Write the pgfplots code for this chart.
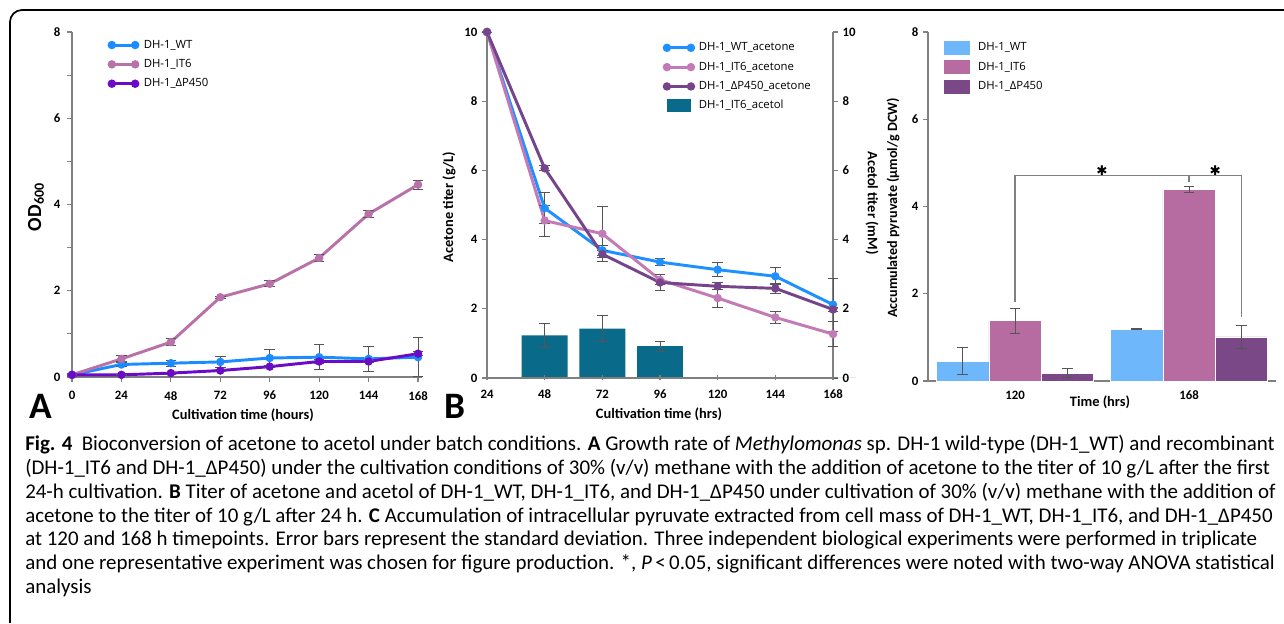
\documentclass[border=0pt]{standalone}
\usepackage{pgfplots}
\pgfplotsset{compat=1.18}
\usepackage{fontspec}
\setmainfont{Carlito}
\newfontfamily\legfont{Open Sans}
\newfontfamily\dejavu{DejaVu Sans}
\definecolor{wtA}{HTML}{1A8CFF}
\definecolor{itA}{HTML}{B972A8}
\definecolor{dpA}{HTML}{6B0AC9}
\definecolor{wtB}{HTML}{1E90FF}
\definecolor{itB}{HTML}{C27BB7}
\definecolor{dpB}{HTML}{76448A}
\definecolor{acet}{HTML}{0A6A8A}
\definecolor{wtC}{HTML}{6FB7FB}
\definecolor{itC}{HTML}{B66BA1}
\definecolor{dpC}{HTML}{7A4886}
\definecolor{axg}{HTML}{808080}
\definecolor{errg}{HTML}{555555}
\pgfplotsset{
  panel/.style={
    scale only axis, anchor=south west,
    axis x line*=bottom, axis y line*=left,
    axis line style={axg, line width=0.9pt},
    tick align=outside,
    major tick length=3.75pt, minor tick length=3.75pt,
    every tick/.style={axg, line width=0.8pt},
    /pgf/number format/assume math mode=true,
    ticklabel style={font=\bfseries\fontsize{9.6}{11}\selectfont, black},
    clip=false,
    legend cell align=left,
    legend style={draw=none, fill=none, anchor=north west,
       font=\legfont\fontsize{8.5}{10}\selectfont,
       nodes={inner sep=1pt, text height=6.5pt, text depth=2pt},
       row sep=4pt},
  },
  eb/.style={error bars/.cd, y dir=both, y explicit,
     error bar style={errg, line width=0.7pt},
     error mark options={rotate=90, errg, mark size=4pt, line width=0.7pt}},
  ln/.style={line width=2.2pt, mark=*, mark size=2pt, mark options={solid}},
}
\begin{document}
\begin{tikzpicture}
\useasboundingbox (0pt,0pt) rectangle (963pt,468pt);
\fill[white] (0pt,0pt) rectangle (963pt,468pt);

% ---------------- Panel A ----------------
\begin{axis}[panel, at={(54pt,185.25pt)}, width=262.6pt, height=258.75pt,
  xmin=0, xmax=170, ymin=0, ymax=8,
  xtick={0,24,...,168}, ytick={0,2,...,8}, minor ytick={1,3,5,7},
  xticklabel style={yshift=-3.4pt}, yticklabel style={xshift=-1.5pt},
  legend style={at={(0.094,0.991)}},
  legend image code/.code={\draw[#1] plot coordinates {(0pt,0pt) (17.5pt,0pt)}; \path[draw=none, fill=none] (0pt,0pt) -- (23pt,0pt);}]
\addplot[ln, wtA, eb] table[x=x, y=y, y error=e] {
x y e
0 0.05 0.03
24 0.29 0.05
48 0.32 0.07
72 0.35 0.12
96 0.44 0.20
120 0.46 0.29
144 0.42 0.29
168 0.46 0.45
};
\addlegendentry{DH-1\_WT}
\addplot[ln, itA, eb] table[x=x, y=y, y error=e] {
x y e
0 0.05 0.02
24 0.42 0.07
48 0.81 0.08
72 1.85 0.02
96 2.16 0.07
120 2.76 0.09
144 3.78 0.08
168 4.46 0.10
};
\addlegendentry{DH-1\_IT6}
\addplot[ln, dpA, eb] table[x=x, y=y, y error=e] {
x y e
0 0.05 0.02
24 0.05 0.01
48 0.09 0.02
72 0.15 0.03
96 0.24 0.02
120 0.36 0.04
144 0.36 0.03
168 0.54 0.05
};
\addlegendentry{DH-1\_ΔP450}
\end{axis}

% ---------------- Panel B: acetol bars (right axis) ----------------
\begin{axis}[panel, at={(365.25pt,184.5pt)}, width=259.5pt, height=259.5pt,
  xmin=24, xmax=168, ymin=0, ymax=10,
  axis x line=none, axis y line*=right,
  ytick={0,2,...,10}]
\addplot[ybar, bar width=19.1, fill=acet, draw=none, eb] table[x=x, y=y, y error=e] {
x y e
48 1.23 0.35
72 1.43 0.37
96 0.92 0.15
120 0 0
144 0 0
168 0 0
};
\end{axis}

% ---------------- Panel B: acetone lines (left axis) ----------------
\begin{axis}[panel, at={(365.25pt,184.5pt)}, width=259.5pt, height=259.5pt,
  xmin=24, xmax=168, ymin=0, ymax=10,
  xtick={24,48,...,168}, ytick={0,2,...,10}, xtick align=center,
  xticklabel style={yshift=-3.4pt},
  legend style={at={(0.50,0.983)}},
  legend image code/.code={\draw[#1] plot coordinates {(0pt,0pt) (18pt,0pt)}; \path[draw=none, fill=none] (0pt,0pt) -- (23pt,0pt);}]
\addplot[ln, wtB, eb] table[x=x, y=y, y error=e] {
x y e
24 10 0
48 4.91 0.44
72 3.69 0.15
96 3.35 0.10
120 3.13 0.20
144 2.94 0.25
168 2.12 0.77
};
\addlegendentry{DH-1\_WT\_acetone}
\addplot[ln, itB, eb] table[x=x, y=y, y error=e] {
x y e
24 10 0
48 4.55 0.45
72 4.17 0.80
96 2.84 0.15
120 2.31 0.26
144 1.75 0.18
168 1.27 0.35
};
\addlegendentry{DH-1\_IT6\_acetone}
\addplot[ln, dpB, eb] table[x=x, y=y, y error=e] {
x y e
24 10 0
48 6.06 0.07
72 3.58 0.10
96 2.76 0.22
120 2.65 0.10
144 2.59 0.15
168 1.98 0.05
};
\addlegendentry{DH-1\_ΔP450\_acetone}
\addlegendimage{legend image code/.code={\fill[acet, draw=none] (0pt,-5pt) rectangle (18pt,5pt); \path[draw=none, fill=none] (0pt,0pt) -- (23pt,0pt);}}
\addlegendentry{DH-1\_IT6\_acetol}
\end{axis}

% ---------------- Panel C ----------------
\begin{axis}[panel, at={(696pt,182.25pt)}, width=261pt, height=261.75pt,
  xmin=-0.5, xmax=1.5, ymin=0, ymax=8,
  xtick={0,1}, xticklabels={120,168}, ytick={0,2,...,8},
  xtick style={draw=none},
  legend style={at={(0.034,0.983)}},
  legend image code/.code={\fill[#1, draw=none] (0pt,-5.25pt) rectangle (19.5pt,5.25pt); \path[draw=none, fill=none] (0pt,0pt) -- (24.5pt,0pt);}]
\addplot[ybar, bar width=0.3, bar shift=0pt, fill=wtC, draw=white, line width=0.5pt, eb] table[x=x, y=y, y error=e] {
x y e
-0.3 0.45 0.31
0.7 1.19 0.01
};
\addlegendentry{DH-1\_WT}
\addplot[ybar, bar width=0.3, bar shift=0pt, fill=itC, draw=white, line width=0.5pt, eb] table[x=x, y=y, y error=e] {
x y e
0 1.38 0.28
1 4.39 0.07
};
\addlegendentry{DH-1\_IT6}
\addplot[ybar, bar width=0.3, bar shift=0pt, fill=dpC, draw=white, line width=0.5pt, eb] table[x=x, y=y, y error=e] {
x y e
0.3 0.18 0.10
1.3 1.01 0.26
};
\addlegendentry{DH-1\_ΔP450}
\draw[axg, line width=0.8pt] (axis cs:0,1.82) -- (axis cs:0,4.70) -- (axis cs:1.3,4.70) -- (axis cs:1.3,1.47);
\draw[axg, line width=0.8pt] (axis cs:1,4.70) -- (axis cs:1,4.57);
\node[font=\dejavu\fontsize{10}{10}\selectfont] at (axis cs:0.5,4.83) {✱};
\node[font=\dejavu\fontsize{10}{10}\selectfont] at (axis cs:1.15,4.83) {✱};
\end{axis}

% ---------------- Texts (pixel coordinates) ----------------
\begin{scope}[x=0.75pt, y=-0.75pt, shift={(0pt,468pt)}]
\draw[line width=1.3pt, rounded corners=9pt] (1290,10) -- (10,10) -- (10,623);
\node[rotate=90, font=\bfseries\fontsize{15}{18}\selectfont] at (36,207) {OD\textsubscript{600}};
\node[font=\bfseries\fontsize{10.8}{12}\selectfont] at (243,415) {Cultivation time (hours)};
\node[rotate=90, font=\bfseries\fontsize{10.8}{12}\selectfont] at (449,207) {Acetone titer (g/L)};
\node[rotate=-90, font=\bfseries\fontsize{10.8}{12}\selectfont] at (872,203) {Acetol titer (mM)};
\node[font=\bfseries\fontsize{10.8}{12}\selectfont] at (659,414) {Cultivation time (hrs)};
\node[rotate=90, font=\bfseries\fontsize{10.6}{12}\selectfont] at (893,208) {Accumulated pyruvate (µmol/g DCW)};
\node[font=\bfseries\fontsize{10.8}{12}\selectfont] at (1100,402) {Time (hrs)};
\node[font=\bfseries\fontsize{28}{30}\selectfont] at (41,406) {A};
\node[font=\bfseries\fontsize{28}{30}\selectfont] at (455,406) {B};
\begin{scope}[every node/.style={anchor=base west, inner sep=0pt, font=\fontsize{15.7}{18}\selectfont}]
\node at (25,451) {\textbf{Fig. 4}\hspace{7pt}Bioconversion of acetone to acetol under batch conditions. \textbf{A} Growth rate of \textit{Methylomonas} sp. DH-1 wild-type (DH-1\_WT) and recombinant};
\node at (25,474.7) {(DH-1\_IT6 and DH-1\_ΔP450) under the cultivation conditions of 30\% (v/v) methane with the addition of acetone to the titer of 10 g/L after the first};
\node at (25,498.4) {24-h cultivation. \textbf{B} Titer of acetone and acetol of DH-1\_WT, DH-1\_IT6, and DH-1\_ΔP450 under cultivation of 30\% (v/v) methane with the addition of};
\node at (25,522.1) {acetone to the titer of 10 g/L after 24 h. \textbf{C} Accumulation of intracellular pyruvate extracted from cell mass of DH-1\_WT, DH-1\_IT6, and DH-1\_ΔP450};
\node at (25,545.8) {at 120 and 168 h timepoints. Error bars represent the standard deviation. Three independent biological experiments were performed in triplicate};
\node at (25,569.5) {and one representative experiment was chosen for figure production. *, \textit{P}\,<\,0.05, significant differences were noted with two-way ANOVA statistical};
\node at (25,593.2) {analysis};
\end{scope}
\end{scope}
\end{tikzpicture}
\end{document}
